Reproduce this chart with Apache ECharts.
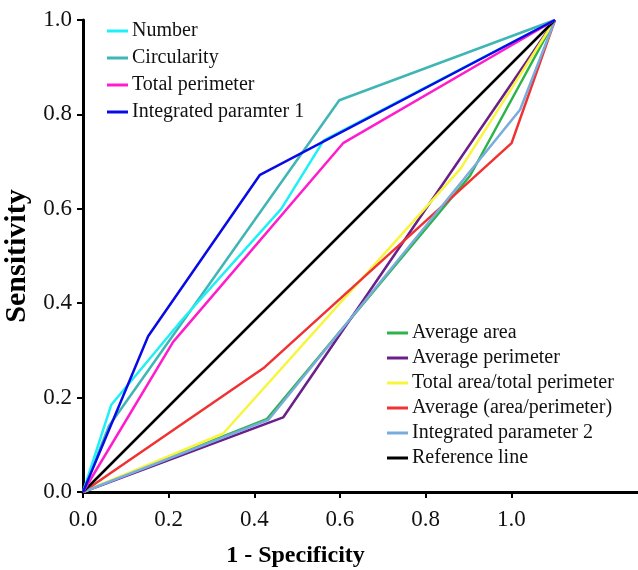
<!DOCTYPE html>
<html>
<head>
<meta charset="utf-8">
<script src="https://cdn.jsdelivr.net/npm/echarts@6/dist/echarts.min.js"></script>
<style>html,body{margin:0;padding:0;background:#fff;}#c{width:638px;height:570px;}</style>
</head>
<body>
<div id="c"></div>
<script>
// ---- data (1 - specificity, sensitivity) ----
const numberX = [0, 0.06, 0.21, 0.42, 0.51, 1];
const numberY = [0, 0.185, 0.365, 0.60, 0.745, 1];
const circularityX = [0, 0.055, 0.543, 1];
const circularityY = [0, 0.14, 0.83, 1];
const totalPerimeterX = [0, 0.191, 0.551, 1];
const totalPerimeterY = [0, 0.318, 0.739, 1];
const integrated1X = [0, 0.138, 0.375, 1];
const integrated1Y = [0, 0.33, 0.672, 1];
const avgAreaX = [0, 0.39, 0.82, 1];
const avgAreaY = [0, 0.155, 0.67, 1];
const avgPerimeterX = [0, 0.424, 1];
const avgPerimeterY = [0, 0.158, 1];
const totalAreaPerimX = [0, 0.297, 0.80, 1];
const totalAreaPerimY = [0, 0.124, 0.685, 1];
const avgAreaPerimX = [0, 0.382, 0.908, 1];
const avgAreaPerimY = [0, 0.262, 0.739, 1];
const integrated2X = [0, 0.393, 0.926, 1];
const integrated2Y = [0, 0.153, 0.81, 1];
const referenceX = [0, 1];
const referenceY = [0, 1];

const xTickLabels = [0, 0.2, 0.4, 0.6, 0.8, 1.0];
const yTickLabels = [0, 0.2, 0.4, 0.6, 0.8, 1.0];

const legendTop = ['Number', 'Circularity', 'Total perimeter', 'Integrated paramter 1'];
const legendBottom = ['Average area', 'Average perimeter', 'Total area/total perimeter', 'Average (area/perimeter)', 'Integrated parameter 2', 'Reference line'];

const seriesDefs = [
  ['Average area', avgAreaX, avgAreaY, '#2cb34a'],
  ['Average perimeter', avgPerimeterX, avgPerimeterY, '#6b1f8a'],
  ['Total area/total perimeter', totalAreaPerimX, totalAreaPerimY, '#f7f53c'],
  ['Average (area/perimeter)', avgAreaPerimX, avgAreaPerimY, '#f03232'],
  ['Integrated parameter 2', integrated2X, integrated2Y, '#78acdc'],
  ['Reference line', referenceX, referenceY, '#000000'],
  ['Circularity', circularityX, circularityY, '#3fb5b5'],
  ['Number', numberX, numberY, '#1ff0f5'],
  ['Total perimeter', totalPerimeterX, totalPerimeterY, '#ff1ccc'],
  ['Integrated paramter 1', integrated1X, integrated1Y, '#0a0ae6']
];

const FONT = '"Liberation Serif", "Times New Roman", serif';
const chart = echarts.init(document.getElementById('c'), null, {renderer: 'canvas'});

const legendCommon = {
  orient: 'vertical',
  icon: 'rect',
  itemWidth: 21,
  itemHeight: 3,
  textStyle: {fontFamily: FONT, fontSize: 20, color: '#111', lineHeight: 20, padding: [0, 0, 0, -1]},
  padding: 0
};

chart.setOption({
  animation: false,
  backgroundColor: '#fff',
  grid: {left: 83, right: 0, top: 20, bottom: 78, containLabel: false, outerBoundsMode: 'none'},
  legend: [
    Object.assign({}, legendCommon, {data: legendTop, left: 107, top: 21, itemGap: 7}),
    Object.assign({}, legendCommon, {data: legendBottom, left: 387, top: 323, itemGap: 5})
  ],
  xAxis: [
    {
      type: 'value', min: 0, max: 555 / 428.3,
      name: '1 - Specificity', nameLocation: 'middle', nameGap: 52,
      nameTextStyle: {fontFamily: FONT, fontSize: 24, fontWeight: 'bold', color: '#000', padding: [0, 0, 0, -130]},
      axisLine: {show: true, lineStyle: {color: '#000', width: 3}},
      axisTick: {show: true, length: 6, lineStyle: {color: '#000', width: 2}, customValues: xTickLabels},
      axisLabel: {fontFamily: FONT, fontSize: 23, color: '#111', margin: 16, customValues: xTickLabels,
        formatter: v => v.toFixed(1)},
      splitLine: {show: false}
    },
    {
      type: 'value', min: 0, max: 555 / 472, show: false, splitLine: {show: false}
    }
  ],
  yAxis: {
    type: 'value', min: 0, max: 1, interval: 0.2,
    name: 'Sensitivity', nameLocation: 'middle', nameGap: 43, nameRotate: 90,
    nameTextStyle: {fontFamily: FONT, fontSize: 30, fontWeight: 'bold', color: '#000'},
    axisLine: {show: true, lineStyle: {color: '#000', width: 3}},
    axisTick: {show: true, length: 6, lineStyle: {color: '#000', width: 2}},
    axisLabel: {fontFamily: FONT, fontSize: 23, color: '#111', margin: 11, formatter: v => v.toFixed(1)},
    splitLine: {show: false}
  },
  series: seriesDefs.map(([name, xs, ys, color]) => ({
    name: name,
    type: 'line',
    xAxisIndex: 1,
    data: xs.map((x, i) => [x, ys[i]]),
    symbol: 'none',
    itemStyle: {color: color},
    lineStyle: {color: color, width: 2.5},
    emphasis: {disabled: true}
  }))
});
</script>
</body>
</html>
